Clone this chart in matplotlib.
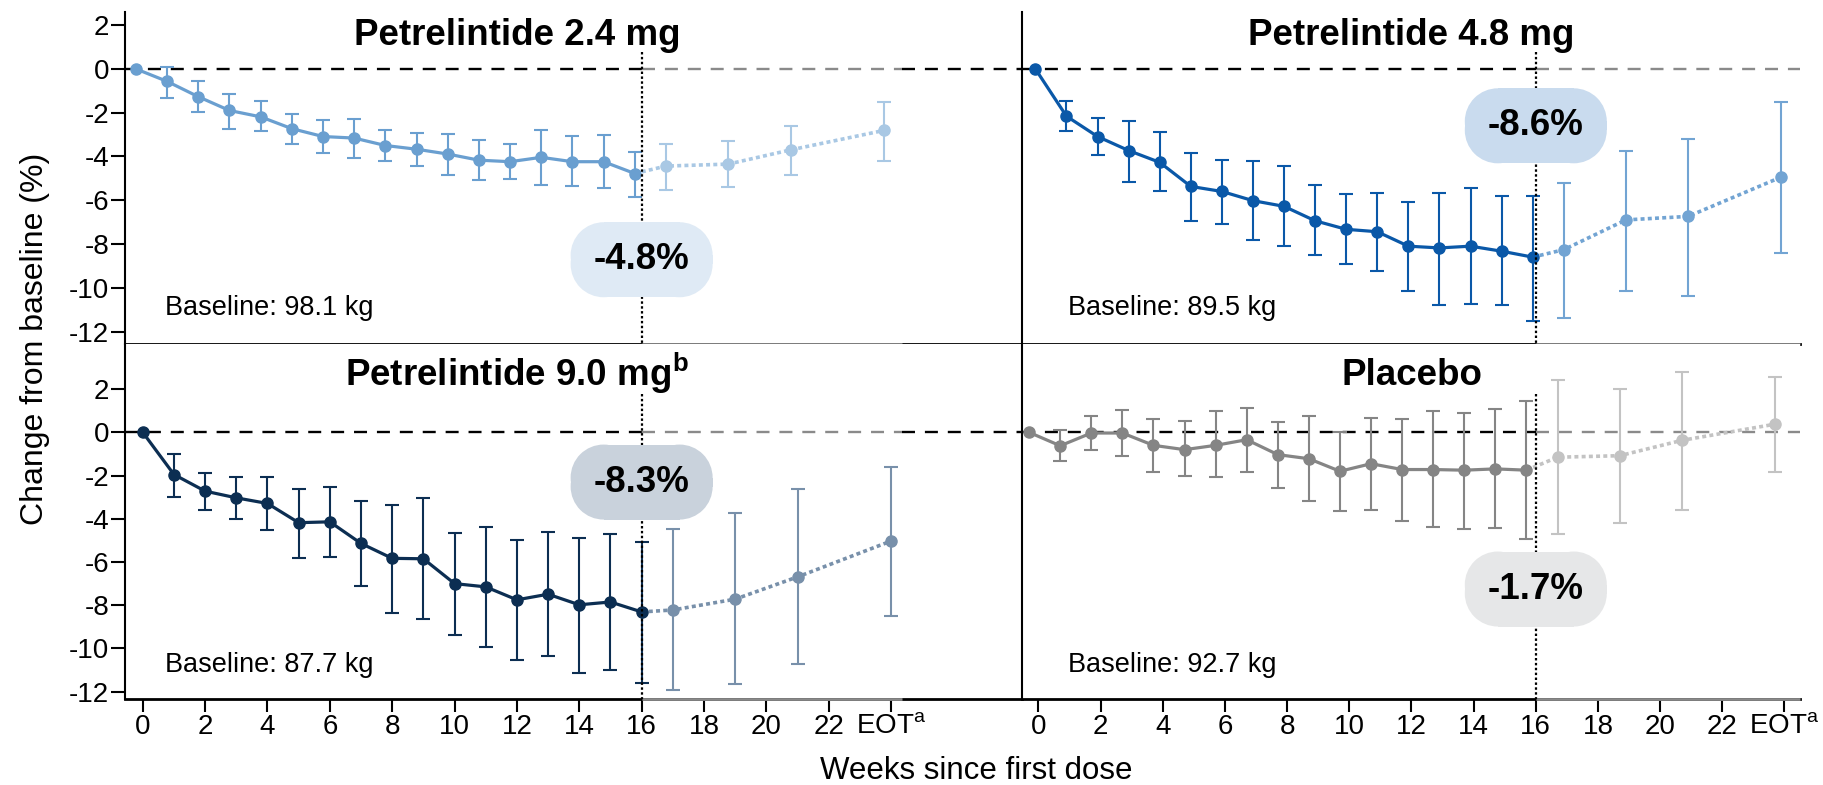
import matplotlib
matplotlib.use('Agg')
import matplotlib.pyplot as plt
import matplotlib.transforms as mtransforms
from matplotlib.patches import Rectangle, Circle
import numpy as np

plt.rcParams['font.family'] = ['Liberation Sans', 'DejaVu Sans']
plt.rcParams['mathtext.fontset'] = 'custom'
plt.rcParams['mathtext.rm'] = 'Liberation Sans'
plt.rcParams['mathtext.bf'] = 'Liberation Sans:bold'
plt.rcParams['axes.unicode_minus'] = False

### data
weeks = list(range(17))
weeks_post = [17, 19, 21, 24]
tick_vals = [0, 2, 4, 6, 8, 10, 12, 14, 16, 18, 20, 22, 24]
tick_labels = ['0', '2', '4', '6', '8', '10', '12', '14', '16', '18', '20', '22', r'EOT$^{\mathrm{a}}$']

mean24 = [0, -0.57, -1.27, -1.90, -2.19, -2.73, -3.09, -3.16, -3.50, -3.67, -3.89, -4.17, -4.24, -4.04, -4.24, -4.24, -4.78]
hi24 = [0, 0.10, -0.54, -1.16, -1.47, -2.04, -2.35, -2.31, -2.81, -2.93, -2.98, -3.24, -3.44, -2.78, -3.06, -3.01, -3.78]
lo24 = [0, -1.31, -1.96, -2.73, -2.85, -3.43, -3.86, -4.09, -4.21, -4.43, -4.83, -5.06, -5.02, -5.29, -5.35, -5.45, -5.86]
post24 = [-4.44, -4.35, -3.70, -2.81]
posthi24 = [-3.43, -3.29, -2.62, -1.51]
postlo24 = [-5.52, -5.40, -4.86, -4.21]

mean48 = [0, -2.16, -3.09, -3.73, -4.27, -5.37, -5.60, -6.02, -6.28, -6.94, -7.33, -7.44, -8.10, -8.18, -8.10, -8.33, -8.60]
hi48 = [0, -1.47, -2.24, -2.39, -2.90, -3.83, -4.14, -4.21, -4.44, -5.32, -5.71, -5.66, -6.10, -5.66, -5.43, -5.79, -5.79]
lo48 = [0, -2.85, -3.94, -5.17, -5.59, -6.94, -7.07, -7.82, -8.10, -8.52, -8.90, -9.23, -10.14, -10.77, -10.76, -10.77, -11.50]
post48 = [-8.26, -6.90, -6.74, -4.94]
posthi48 = [-5.20, -3.75, -3.21, -1.50]
postlo48 = [-11.37, -10.15, -10.37, -8.41]

mean90 = [0, -1.95, -2.72, -3.03, -3.29, -4.18, -4.14, -5.14, -5.83, -5.85, -7.00, -7.15, -7.75, -7.49, -7.98, -7.85, -8.31]
hi90 = [0, -0.98, -1.88, -2.08, -2.05, -2.62, -2.52, -3.18, -3.34, -3.06, -4.65, -4.38, -5.00, -4.60, -4.88, -4.72, -5.06]
lo90 = [0, -2.98, -3.60, -4.03, -4.54, -5.83, -5.77, -7.11, -8.38, -8.65, -9.37, -9.92, -10.52, -10.37, -11.15, -10.98, -11.62]
post90 = [-8.22, -7.72, -6.69, -5.03]
posthi90 = [-4.49, -3.72, -2.62, -1.62]
postlo90 = [-11.92, -11.65, -10.72, -8.49]

meanpl = [0, -0.62, -0.03, -0.03, -0.60, -0.80, -0.60, -0.34, -1.03, -1.22, -1.80, -1.45, -1.72, -1.72, -1.75, -1.69, -1.75]
hipl = [0, 0.12, 0.74, 1.05, 0.63, 0.51, 0.97, 1.12, 0.48, 0.74, 0.02, 0.66, 0.63, 1.00, 0.89, 1.08, 1.46]
lopl = [0, -1.31, -0.80, -1.08, -1.85, -2.03, -2.08, -1.83, -2.57, -3.18, -3.65, -3.60, -4.11, -4.37, -4.46, -4.42, -4.95]
postpl = [-1.15, -1.08, -0.37, 0.38]
posthipl = [2.43, 2.00, 2.78, 2.54]
postlopl = [-4.72, -4.18, -3.60, -1.83]

titles = ['Petrelintide 2.4 mg', 'Petrelintide 4.8 mg', r'Petrelintide 9.0 mg$^{\mathbf{b}}$', 'Placebo']
baselines = ['Baseline: 98.1 kg', 'Baseline: 89.5 kg', 'Baseline: 87.7 kg', 'Baseline: 92.7 kg']
week16_labels = ['-4.8%', '-8.6%', '-8.3%', '-1.7%']

### styling per panel
panels = [
    dict(mean=mean24, hi=hi24, lo=lo24, post=post24, phi=posthi24, plo=postlo24,
         col='#6a9fd0', light='#a9c8e4', box='#dfeaf5', dodge=-0.22, boxy=-8.72),
    dict(mean=mean48, hi=hi48, lo=lo48, post=post48, phi=posthi48, plo=postlo48,
         col='#0a58a8', light='#72a4d3', box='#c9dbee', dodge=-0.1, boxy=-2.6),
    dict(mean=mean90, hi=hi90, lo=lo90, post=post90, phi=posthi90, plo=postlo90,
         col='#0c2e52', light='#7890aa', box='#c9d2dc', dodge=0.0, boxy=-2.3),
    dict(mean=meanpl, hi=hipl, lo=lopl, post=postpl, phi=posthipl, plo=postlopl,
         col='#858585', light='#c3c3c3', box='#e6e7e8', dodge=-0.3, boxy=-7.25),
]

W, H = 1824, 785
fig = plt.figure(figsize=(W / 100, H / 100), dpi=100)

def frac(x0, y0, x1, y1):
    return [x0 / W, 1 - y1 / H, (x1 - x0) / W, (y1 - y0) / H]

def pill(ax, x, y, color, w=1.42, h=0.75, r=0.33):
    # rounded box sized in inches, centred on a data point
    trans = fig.dpi_scale_trans + mtransforms.ScaledTranslation(x, y, ax.transData)
    kw = dict(transform=trans, facecolor=color, edgecolor='none', lw=0,
              zorder=6, clip_on=False)
    ax.add_patch(Rectangle((-w / 2 + r, -h / 2), w - 2 * r, h, **kw))
    ax.add_patch(Rectangle((-w / 2, -h / 2 + r), w, h - 2 * r, **kw))
    for cx in (-w / 2 + r, w / 2 - r):
        for cy in (-h / 2 + r, h / 2 - r):
            ax.add_patch(Circle((cx, cy), r, **kw))

rects = [frac(125, 12, 1022, 344), frac(1022, 12, 1800, 344),
         frac(125, 344, 1022, 699), frac(1022, 344, 1800, 699)]
xlims = [(-0.57, 28.2), (-0.53, 24.5), (-0.57, 28.2), (-0.53, 24.5)]
ylims = [(-12.57, 2.6), (-12.57, 2.6), (-12.34, 4.09), (-12.34, 4.09)]
gray_end = [24.35, 24.5, 24.35, 24.5]
title_y = [1.07, 1.07, 2.17, 2.17]
dot_top = [0.75, 0.75, 1.78, 1.78]
base_x = [0.72, 0.95, 0.72, 0.95]
base_y = [-11.24, -11.24, -11.09, -11.09]
gray = '#8a8a8a'

for i, p in enumerate(panels):
    ax = fig.add_axes(rects[i])
    ax.set_xlim(*xlims[i])
    ax.set_ylim(*ylims[i])
    x0, x1 = xlims[i]
    y0 = ylims[i][0]

    # zero line: black before week 16, grey after
    ax.plot([x0, 16], [0, 0], color='black', lw=1.7, ls=(0, (5.5, 4.2)), zorder=1)
    ax.plot([16, gray_end[i]], [0, 0], color=gray, lw=1.7, ls=(0, (5.5, 4.2)), zorder=1)
    if gray_end[i] < x1:
        ax.plot([gray_end[i], x1], [0, 0], color='black', lw=1.7, ls=(0, (5.5, 4.2)), zorder=1)

    xs = np.array(weeks) + p['dodge']
    xp = np.array(weeks_post) + p['dodge']
    m = np.array(p['mean'])
    hi = np.array(p['hi'])
    lo = np.array(p['lo'])
    mp = np.array(p['post'])
    ph = np.array(p['phi'])
    pl = np.array(p['plo'])

    # follow-up after week 16
    ax.plot(np.r_[xs[-1], xp], np.r_[m[-1], mp], color=p['light'], lw=2.6,
            ls=(0, (1.1, 0.9)), zorder=2)
    ax.errorbar(xp, mp, yerr=[mp - pl, ph - mp], fmt='none', ecolor=p['light'],
                elinewidth=1.5, capsize=4.7, capthick=1.5, zorder=2)
    ax.plot(xp, mp, 'o', color=p['light'], ms=8, zorder=3)

    # treatment period
    ax.errorbar(xs[1:], m[1:], yerr=[m[1:] - lo[1:], hi[1:] - m[1:]], fmt='none',
                ecolor=p['col'], elinewidth=1.5, capsize=4.7, capthick=1.5, zorder=3)
    ax.plot(xs, m, '-o', color=p['col'], lw=2.3, ms=8, zorder=4)

    # week 16 marker line
    ax.plot([16, 16], [dot_top[i], y0], color='black', lw=1.6, ls=(0, (1.1, 1.1)),
            zorder=5, clip_on=False)

    # label box at week 16
    pill(ax, 16, p['boxy'], p['box'])
    ax.text(16, p['boxy'], week16_labels[i], ha='center', va='center',
            fontsize=26.5, fontweight='bold', zorder=7)

    ax.text(12, title_y[i], titles[i], ha='center', va='baseline',
            fontsize=26.5, fontweight='bold', zorder=7)
    ax.text(base_x[i], base_y[i], baselines[i], ha='left', va='baseline',
            fontsize=19.5, zorder=7)

    for s in ['top', 'right']:
        ax.spines[s].set_visible(False)
    ax.spines['left'].set_linewidth(1.5)
    ax.spines['bottom'].set_linewidth(2)
    ax.plot([16, gray_end[i]], [y0, y0], color=gray, lw=2, clip_on=False,
            solid_capstyle='butt', zorder=4.5)

    if i in (0, 2):
        ax.set_yticks([-12, -10, -8, -6, -4, -2, 0, 2])
        ax.tick_params(axis='y', labelsize=20, length=10, width=1.5, pad=1.5)
    else:
        ax.set_yticks([])
        ax.tick_params(axis='y', left=False, labelleft=False)
    if i in (2, 3):
        ax.set_xticks(tick_vals)
        ax.set_xticklabels(tick_labels)
        ax.tick_params(axis='x', labelsize=20, length=9, width=1.5, pad=2)
    else:
        ax.set_xticks([])
        ax.tick_params(axis='x', bottom=False, labelbottom=False)

fig.text(35 / W, 1 - 339 / H, 'Change from baseline (%)', rotation=90,
         ha='center', va='center', fontsize=23)
fig.text(976 / W, 1 - 779 / H, 'Weeks since first dose', ha='center',
         va='baseline', fontsize=22.5)

fig.savefig('out.png', dpi=100)
